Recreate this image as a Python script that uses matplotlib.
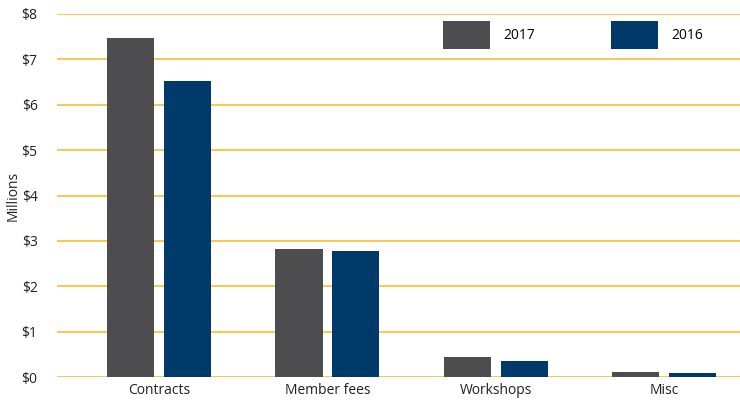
import matplotlib.pyplot as plt
import numpy as np

# ==================== data ====================
categories = ["Contracts", "Member fees", "Workshops", "Misc"]
rev_2017 = [7.47, 2.83, 0.44, 0.11]
rev_2016 = [6.52, 2.78, 0.35, 0.09]
yticks = [0, 1, 2, 3, 4, 5, 6, 7, 8]
ytick_labels = [f"${v}" for v in yticks]

GRAY = "#4d4d4f"
NAVY = "#003a6b"
GOLD = "#fcc84a"

plt.rcParams['font.family'] = ['Open Sans', 'DejaVu Sans']
plt.rcParams['font.size'] = 10

fig = plt.figure(figsize=(7.4, 4.0), dpi=100)
ax = fig.add_axes([57 / 740, 23 / 400, 683 / 740, 363 / 400])

x = np.arange(len(categories))
w = 0.28
off = 0.169
b1 = ax.bar(x - off, rev_2017, width=w, color=GRAY, label="2017", zorder=3)
b2 = ax.bar(x + off, rev_2016, width=w, color=NAVY, label="2016", zorder=3)

ax.set_ylim(0, 8)
ax.set_xlim(-0.606, 3.45)
ax.set_yticks(yticks)
ax.set_yticklabels(ytick_labels)
ax.set_xticks(x)
ax.set_xticklabels(categories)
ax.yaxis.grid(True, color=GOLD, linewidth=1.4, zorder=0)
ax.set_axisbelow(True)
ax.tick_params(length=0, colors="#231f20", labelsize=10)
ax.tick_params(axis='y', pad=14)
ax.tick_params(axis='x', pad=4)
for s in ax.spines.values():
    s.set_visible(False)
ax.set_ylabel("Millions", color="#231f20")
ax.yaxis.set_label_coords(-0.053, 0.5)

leg = ax.legend(handles=[b1, b2], ncol=2, frameon=False,
                loc='upper left', bbox_to_anchor=(443 / 740, 1 - 21 / 400),
                bbox_transform=fig.transFigure,
                handlelength=3.4, handleheight=2.7, handletextpad=0.95,
                columnspacing=5.45, borderpad=0, borderaxespad=0)

fig.savefig("out.png", dpi=100)
